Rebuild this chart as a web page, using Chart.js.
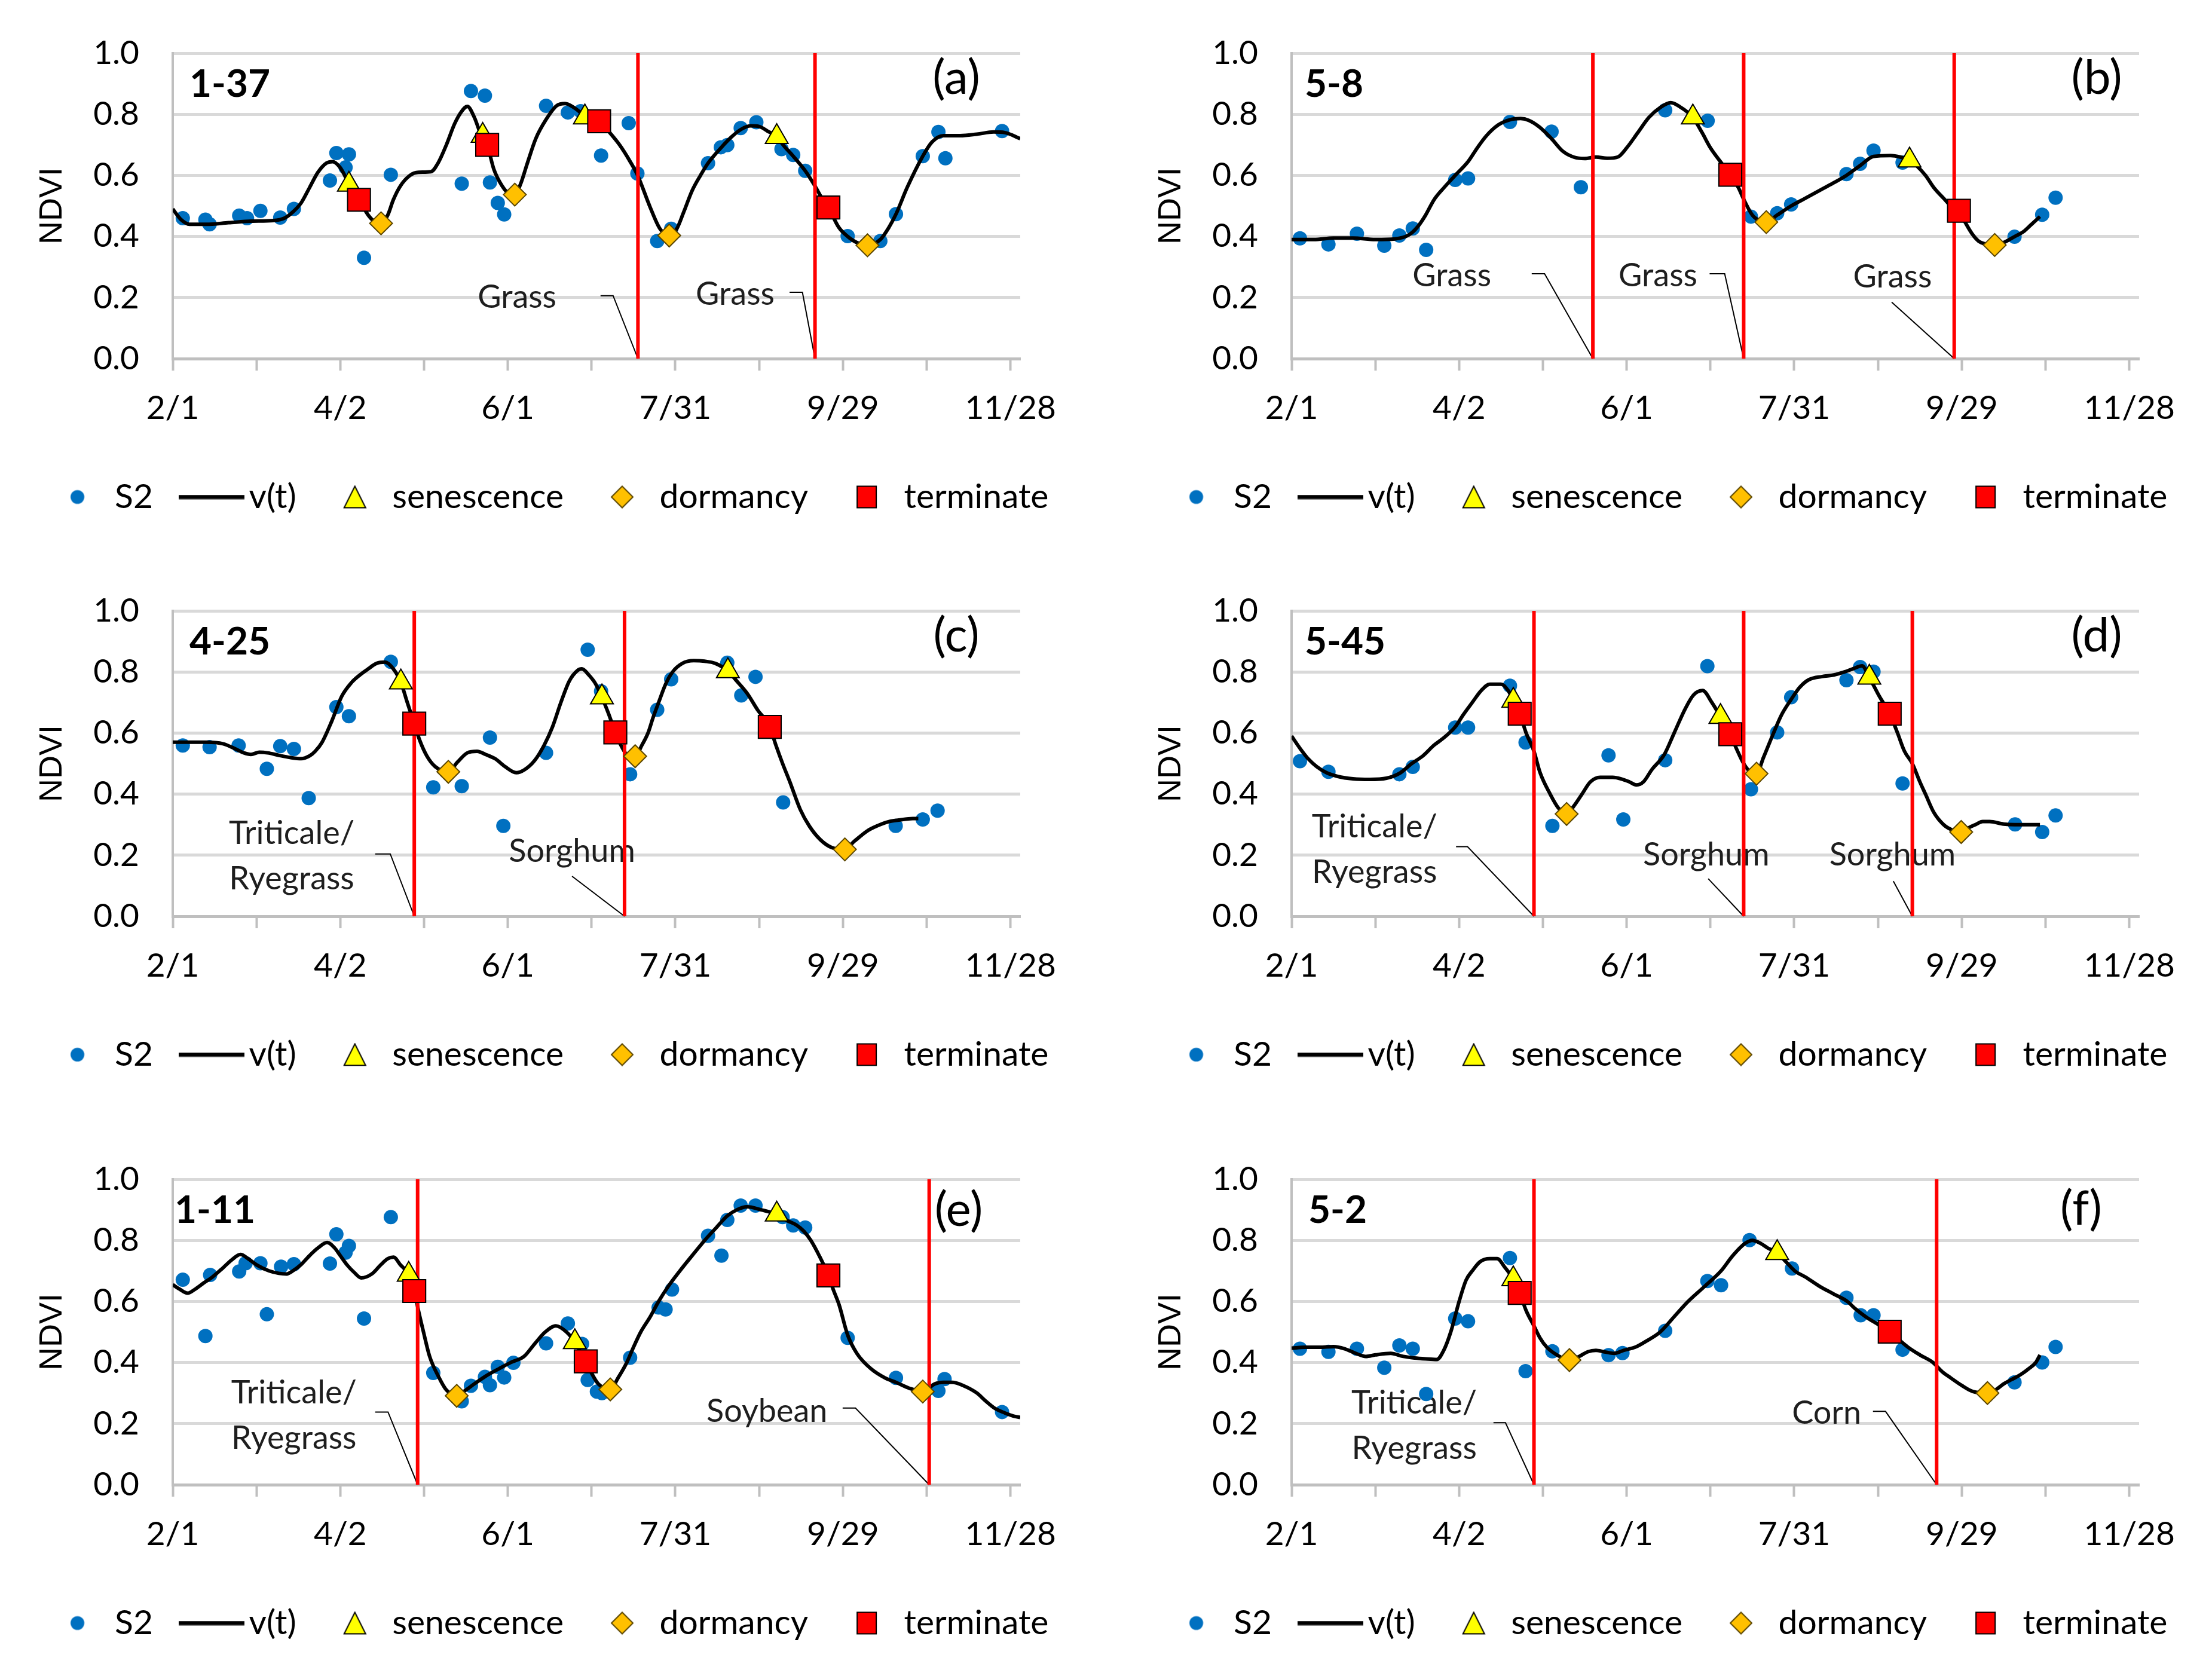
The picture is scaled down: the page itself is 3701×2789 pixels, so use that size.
<!DOCTYPE html>
<html>
<head>
<meta charset="utf-8">
<script src="https://cdn.jsdelivr.net/npm/chart.js@4.4.1/dist/chart.umd.min.js"></script>
<style>
  html, body { margin: 0; padding: 0; background: #fff; width: 3701px; height: 2789px; overflow: hidden; }
  .panel { position: absolute; width: 1850px; height: 905px; }
</style>
</head>
<body>
<div class="panel" style="left:0;top:0"><canvas id="pa"></canvas></div>
<div class="panel" style="left:1872px;top:0"><canvas id="pb"></canvas></div>
<div class="panel" style="left:0;top:933px"><canvas id="pc"></canvas></div>
<div class="panel" style="left:1872px;top:933px"><canvas id="pd"></canvas></div>
<div class="panel" style="left:0;top:1884px"><canvas id="pe"></canvas></div>
<div class="panel" style="left:1872px;top:1884px"><canvas id="pf"></canvas></div>
<script>
// x axis = days since Feb 1
var tickDays = [0, 30, 60, 90, 120, 150, 180, 210, 240, 270, 300];
var tickLabels = ['2/1', '4/2', '6/1', '7/31', '9/29', '11/28'];
var legendNames = ['S2', 'v(t)', 'senescence', 'dormancy', 'terminate'];
var yTitle = 'NDVI';

// (a) 1-37
var s2A = [[3.6,0.46],[11.7,0.455],[13.2,0.44],[23.8,0.468],[26.6,0.46],[31.4,0.484],[38.5,0.462],[43.4,0.49],[56.3,0.583],[58.6,0.673],[61.9,0.626],[63.1,0.669],[68.5,0.33],[78.1,0.602],[103.5,0.573],[106.8,0.876],[111.8,0.861],[113.6,0.577],[116.4,0.51],[118.7,0.472],[133.7,0.828],[141.5,0.806],[146.1,0.81],[153.4,0.665],[163.3,0.771],[166.4,0.606],[173.5,0.385],[178.5,0.425],[191.7,0.64],[196.3,0.692],[198.6,0.699],[203.4,0.755],[209,0.774],[218,0.686],[222.2,0.667],[226.5,0.615],[241.7,0.401],[253.4,0.385],[259,0.473],[268.6,0.663],[274.2,0.742],[276.7,0.656],[297,0.745]];
var vtA = [[0,0.49],[3,0.455],[6,0.44],[12,0.44],[20,0.445],[28,0.45],[36,0.452],[40,0.46],[43,0.48],[46,0.51],[49,0.56],[52,0.61],[55,0.64],[57.3,0.645],[60,0.625],[63,0.575],[66.7,0.52],[70,0.47],[72.5,0.447],[74.6,0.443],[77,0.47],[79,0.52],[81.5,0.565],[85,0.6],[88,0.61],[92.5,0.612],[95,0.64],[98,0.7],[101,0.77],[103.5,0.81],[105.5,0.826],[108,0.79],[110.5,0.73],[112.6,0.7],[115,0.62],[118,0.565],[120.5,0.54],[122.5,0.537],[124.5,0.57],[127,0.64],[130,0.72],[133.5,0.78],[137.5,0.828],[140.5,0.835],[144,0.82],[147.6,0.795],[152.7,0.777],[156,0.745],[160,0.7],[163.5,0.65],[166.5,0.6],[171,0.495],[174.5,0.425],[177.8,0.403],[180.5,0.425],[183,0.48],[186,0.55],[189,0.6],[191.7,0.64],[196.3,0.69],[200,0.725],[203.4,0.75],[207,0.762],[210,0.76],[213,0.745],[216.3,0.726],[219,0.695],[222,0.665],[226.5,0.615],[230,0.565],[232.5,0.525],[234.8,0.495],[238.5,0.43],[241.7,0.4],[245,0.38],[248.8,0.371],[253.4,0.39],[256.5,0.43],[259,0.473],[263,0.56],[268.6,0.663],[272,0.71],[276,0.73],[282,0.73],[288,0.735],[294,0.742],[298,0.74],[303.5,0.72]];
var senA = [[63.1,0.57],[111,0.73],[147.6,0.79],[216.3,0.726]];
var dorA = [[74.6,0.443],[122.5,0.537],[177.8,0.403],[248.8,0.371]];
var terA = [[66.7,0.52],[112.6,0.7],[152.7,0.777],[234.8,0.495]];
var cutA = [166.6, 230];

// (b) 5-8
var s2B = [[3,0.394],[13.2,0.374],[23.4,0.409],[33.2,0.37],[38.6,0.403],[43.4,0.426],[48.2,0.356],[58.6,0.585],[63.2,0.59],[78.2,0.775],[93.1,0.743],[103.6,0.561],[133.8,0.813],[149,0.779],[164.5,0.465],[173.9,0.476],[178.9,0.505],[198.7,0.604],[203.6,0.638],[208.4,0.681],[218.8,0.642],[258.9,0.399],[268.8,0.471],[273.6,0.527]];
var vtB = [[0,0.39],[8,0.39],[15,0.395],[22,0.395],[30,0.39],[37,0.392],[42,0.405],[45,0.43],[48,0.47],[51,0.52],[54.6,0.56],[58.6,0.6],[63.2,0.645],[66.5,0.69],[69.8,0.73],[74,0.765],[78.2,0.782],[82,0.786],[85,0.78],[88.8,0.758],[93.1,0.72],[97,0.68],[101,0.66],[105,0.655],[109,0.66],[113,0.656],[116.8,0.66],[120,0.69],[124,0.74],[128,0.79],[132,0.822],[135.8,0.838],[139,0.825],[143.7,0.79],[147,0.74],[150,0.69],[154,0.64],[157.1,0.602],[160,0.56],[162,0.52],[165,0.47],[168,0.45],[170,0.447],[173.9,0.47],[178.9,0.5],[184,0.525],[189,0.55],[194,0.575],[198.7,0.6],[203.6,0.632],[208.4,0.662],[214.5,0.665],[218,0.66],[221.3,0.649],[224,0.63],[227,0.6],[230,0.56],[233.5,0.525],[237.3,0.49],[239,0.484],[241,0.45],[243.6,0.41],[246,0.385],[248.7,0.375],[251.8,0.372],[255,0.38],[259,0.4],[262,0.415],[265,0.44],[268,0.465]];
var senB = [[143.7,0.79],[221.3,0.649]];
var dorB = [[170,0.447],[251.8,0.372]];
var terB = [[157.1,0.602],[239,0.484]];
var cutB = [107.9, 161.9, 237.3];

// (c) 4-25
var s2C = [[3.6,0.559],[13.2,0.554],[23.6,0.559],[33.7,0.483],[38.5,0.557],[43.4,0.548],[48.7,0.387],[58.6,0.685],[63.1,0.655],[78.1,0.833],[93.3,0.422],[103.5,0.426],[113.6,0.585],[118.4,0.296],[133.7,0.535],[148.6,0.873],[153.4,0.737],[163.8,0.465],[173.5,0.676],[178.5,0.776],[198.6,0.83],[203.6,0.723],[208.7,0.784],[218.6,0.373],[258.9,0.296],[268.6,0.317],[273.9,0.346]];
var vtC = [[0,0.57],[6,0.57],[12,0.57],[18,0.565],[22,0.55],[25.5,0.535],[28,0.53],[31,0.537],[34,0.535],[38,0.527],[42,0.52],[46,0.516],[49,0.525],[51,0.54],[53.5,0.57],[57,0.64],[60.5,0.72],[64,0.765],[67,0.79],[70,0.81],[73,0.828],[76,0.832],[79,0.81],[81.7,0.766],[84,0.7],[86.5,0.631],[88.5,0.575],[91,0.525],[94,0.49],[98.7,0.473],[102,0.505],[105.5,0.535],[109,0.54],[112,0.53],[115.6,0.515],[119,0.49],[123,0.47],[126,0.48],[129.6,0.51],[133,0.56],[136,0.62],[139,0.7],[142,0.77],[145,0.805],[146.5,0.81],[149,0.79],[151.5,0.76],[153.7,0.717],[156,0.665],[158.5,0.602],[160.5,0.56],[162.6,0.53],[165.6,0.524],[168,0.56],[170.2,0.6],[172,0.65],[174,0.7],[176.5,0.76],[179,0.8],[182.5,0.828],[186.6,0.837],[190.5,0.835],[194.3,0.828],[198.8,0.803],[202,0.77],[205.7,0.73],[209.5,0.675],[213.8,0.62],[216,0.56],[218.4,0.5],[221,0.44],[224.7,0.35],[228,0.295],[232,0.25],[236,0.225],[240.7,0.219],[244,0.245],[248.8,0.28],[252,0.295],[256.5,0.31],[260,0.315],[265,0.32],[267,0.32]];
var senC = [[81.7,0.766],[153.7,0.717],[198.8,0.803]];
var dorC = [[98.7,0.473],[165.6,0.524],[240.7,0.219]];
var terC = [[86.5,0.631],[158.5,0.602],[213.8,0.62]];
var cutC = [86.5, 161.8];

// (d) 5-45
var s2D = [[3,0.508],[13.2,0.473],[38.6,0.465],[43.4,0.489],[58.6,0.618],[63.2,0.618],[78.2,0.755],[83.8,0.569],[93.4,0.296],[113.5,0.527],[118.8,0.317],[133.8,0.511],[148.9,0.819],[164.5,0.416],[173.9,0.602],[178.9,0.717],[198.7,0.773],[203.6,0.816],[208.4,0.801],[218.8,0.435],[259.1,0.301],[268.8,0.276],[273.6,0.33]];
var vtD = [[0,0.59],[3,0.55],[6,0.515],[9,0.49],[12.5,0.47],[16.5,0.458],[22,0.45],[28,0.448],[34,0.452],[39,0.47],[43,0.5],[47,0.525],[51,0.56],[54.6,0.585],[58.6,0.62],[61.5,0.66],[64.7,0.7],[68,0.74],[71,0.76],[75,0.76],[77.5,0.74],[79.4,0.706],[81.7,0.663],[84,0.6],[86.8,0.54],[89,0.47],[92.6,0.4],[95.5,0.355],[98.5,0.335],[101,0.36],[104,0.4],[107,0.44],[110.5,0.455],[115,0.455],[118,0.45],[121,0.44],[123.5,0.43],[126,0.44],[129,0.48],[133.5,0.53],[137,0.6],[141,0.68],[144,0.725],[147.2,0.739],[150.5,0.7],[153.6,0.653],[157.1,0.596],[159.5,0.545],[161.9,0.5],[164,0.475],[166.5,0.467],[169,0.52],[172.6,0.6],[175.5,0.66],[178.9,0.71],[182,0.75],[185.3,0.775],[190,0.785],[194.2,0.79],[198,0.8],[201.5,0.812],[204.3,0.82],[206.9,0.782],[210.5,0.72],[214.2,0.663],[217,0.6],[219.5,0.54],[222.3,0.5],[225,0.44],[227,0.4],[230,0.34],[233.5,0.3],[236.5,0.283],[239.8,0.276],[242.5,0.29],[244.9,0.3],[247.5,0.31],[250,0.31],[255,0.302],[259,0.3],[264,0.3],[268,0.3]];
var senD = [[79.4,0.706],[153.6,0.653],[206.9,0.782]];
var dorD = [[98.5,0.335],[166.5,0.467],[239.8,0.276]];
var terD = [[81.7,0.663],[157.1,0.596],[214.2,0.663]];
var cutD = [86.8, 161.9, 222.3];

// (e) 1-11
var s2E = [[3.6,0.671],[11.7,0.487],[13.4,0.687],[23.8,0.698],[26.1,0.725],[31.4,0.725],[33.7,0.558],[38.8,0.714],[43.4,0.722],[56.3,0.724],[58.6,0.82],[61.9,0.76],[63.1,0.782],[68.5,0.544],[78.1,0.876],[93.3,0.366],[103.5,0.273],[106.8,0.324],[111.8,0.353],[113.6,0.326],[116.4,0.386],[118.7,0.351],[122,0.399],[133.7,0.463],[141.5,0.528],[146.6,0.461],[148.6,0.343],[151.9,0.305],[153.7,0.3],[163.8,0.416],[174,0.58],[176.5,0.574],[178.8,0.639],[191.7,0.815],[196.5,0.75],[198.6,0.867],[203.4,0.914],[208.7,0.914],[218.4,0.876],[222.2,0.849],[226.5,0.842],[241.7,0.481],[259,0.35],[274.2,0.307],[276.4,0.346],[297,0.238]];
var vtE = [[0,0.655],[2.5,0.64],[5.3,0.627],[8,0.64],[11,0.66],[14.2,0.68],[18,0.71],[21,0.735],[24.3,0.754],[27,0.74],[30,0.72],[34.5,0.7],[38,0.692],[40.8,0.69],[43,0.7],[45.9,0.72],[49,0.75],[52,0.775],[55.3,0.793],[58,0.775],[60,0.75],[62.4,0.72],[65,0.695],[67.5,0.677],[71.3,0.69],[74.5,0.72],[77,0.74],[79.1,0.745],[81.5,0.72],[84.5,0.688],[86.5,0.634],[88,0.57],[89.8,0.5],[92,0.42],[95.4,0.35],[98,0.31],[101.7,0.291],[105,0.31],[108,0.33],[112,0.355],[116.9,0.38],[121,0.4],[125.8,0.42],[129.5,0.46],[133.4,0.5],[137.2,0.52],[141,0.5],[144,0.467],[146,0.435],[147.9,0.404],[150,0.365],[152.4,0.33],[156.7,0.312],[159.5,0.35],[162.6,0.4],[165,0.45],[167.6,0.5],[171,0.55],[174,0.6],[177.5,0.65],[181.6,0.7],[186,0.75],[190.5,0.8],[194.5,0.84],[198.6,0.88],[202,0.9],[205.7,0.91],[210.7,0.9],[216.3,0.885],[220,0.865],[223.4,0.85],[226,0.83],[228.5,0.8],[231.5,0.75],[234.8,0.685],[236.5,0.64],[238.6,0.59],[241.7,0.49],[245,0.43],[250,0.38],[255,0.35],[259,0.335],[264,0.315],[268.6,0.305],[272.9,0.33],[276,0.335],[279.2,0.335],[283,0.325],[288,0.3],[291,0.275],[294.4,0.25],[298,0.235],[301,0.225],[303.5,0.22]];
var senE = [[84.5,0.688],[144,0.467],[216.3,0.885]];
var dorE = [[101.7,0.291],[156.7,0.312],[268.6,0.305]];
var terE = [[86.5,0.634],[147.9,0.404],[234.8,0.685]];
var cutE = [87.7, 270.9];

// (f) 5-2
var s2F = [[3,0.445],[13.2,0.435],[23.4,0.445],[33.2,0.383],[38.6,0.456],[43.4,0.445],[48.2,0.297],[58.6,0.544],[63.2,0.535],[78.2,0.742],[83.8,0.372],[93.4,0.437],[113.5,0.424],[118.5,0.431],[133.8,0.504],[148.9,0.667],[153.8,0.653],[164,0.801],[179.2,0.708],[198.7,0.612],[203.8,0.555],[208.4,0.555],[218.8,0.442],[258.9,0.335],[268.8,0.4],[273.6,0.451]];
var vtF = [[0,0.447],[5,0.45],[10,0.45],[15,0.452],[19,0.445],[23,0.43],[26.6,0.42],[30,0.425],[35.5,0.43],[40,0.42],[44,0.415],[48,0.412],[52,0.41],[54.5,0.44],[57,0.5],[60,0.6],[62.5,0.67],[64.7,0.7],[67.5,0.73],[71,0.74],[73.6,0.74],[76.5,0.71],[79.4,0.673],[81.7,0.628],[84,0.57],[86.8,0.52],[89,0.48],[91.4,0.45],[95,0.425],[99.5,0.408],[103,0.42],[106,0.435],[109,0.44],[112,0.435],[115.5,0.43],[119,0.44],[123,0.45],[127,0.47],[132,0.5],[137,0.55],[142,0.6],[148,0.65],[153.8,0.7],[158,0.75],[162.4,0.79],[165,0.8],[168,0.79],[170.5,0.775],[173.9,0.759],[177,0.73],[180.2,0.7],[184,0.68],[189,0.65],[194,0.625],[199,0.6],[202,0.575],[205.6,0.55],[210,0.525],[214.2,0.501],[217.5,0.475],[220.8,0.45],[225,0.425],[229.7,0.4],[233,0.37],[236,0.35],[240,0.325],[244,0.305],[249.2,0.3],[252,0.31],[255,0.33],[258,0.345],[261,0.36],[264,0.38],[266.5,0.4],[268,0.425]];
var senF = [[79.4,0.673],[173.9,0.759]];
var dorF = [[99.5,0.408],[249.2,0.3]];
var terF = [[81.7,0.628],[214.2,0.501]];
var cutF = [86.8, 231];

// crop labels with leader lines (data coordinates)
var notesA = [
  { text: ['Grass'], at: [123.3, 0.2], path: [[153.2, 0.206], [157.7, 0.206], [166.6, 0]] },
  { text: ['Grass'], at: [201.4, 0.21], path: [[220.9, 0.217], [225.5, 0.217], [230, 0]] }
];
var notesB = [
  { text: ['Grass'], at: [57.4, 0.27], path: [[86, 0.278], [90.6, 0.278], [107.9, 0]] },
  { text: ['Grass'], at: [131.2, 0.27], path: [[149.7, 0.278], [155.1, 0.278], [161.9, 0]] },
  { text: ['Grass'], at: [215.2, 0.267], path: [[214.9, 0.185], [237.3, 0]] }
];
var notesC = [
  { text: ['Triticale/', 'Ryegrass'], at: [42.6, 0.271], path: [[72.5, 0.204], [77.9, 0.204], [86.5, 0]] },
  { text: ['Sorghum'], at: [143, 0.212], path: [[143, 0.131], [161.8, 0]] }
];
var notesD = [
  { text: ['Triticale/', 'Ryegrass'], at: [29.7, 0.292], path: [[58.9, 0.228], [63, 0.228], [86.8, 0]] },
  { text: ['Sorghum'], at: [148.5, 0.201], path: [[149.2, 0.123], [161.9, 0]] },
  { text: ['Sorghum'], at: [215.2, 0.201], path: [[215.5, 0.115], [222.3, 0]] }
];
var notesE = [
  { text: ['Triticale/', 'Ryegrass'], at: [43.4, 0.3], path: [[72.5, 0.238], [77.1, 0.238], [87.7, 0]] },
  { text: ['Soybean'], at: [212.8, 0.24], path: [[239.9, 0.251], [244.5, 0.251], [270.9, 0]] }
];
var notesF = [
  { text: ['Triticale/', 'Ryegrass'], at: [43.9, 0.267], path: [[72.3, 0.203], [76.6, 0.203], [86.8, 0]] },
  { text: ['Corn'], at: [191.6, 0.233], path: [[208.2, 0.24], [212.7, 0.24], [231, 0]] }
];

var blue = '#0070C0', yellow = '#FFFF00', orange = '#FFC000', red = '#FF0000';

function makeIcon(w, h, paint) {
  var c = document.createElement('canvas');
  c.width = w; c.height = h;
  paint(c.getContext('2d'));
  return c;
}
var legendIcons = [
  makeIcon(26, 26, function (g) { g.fillStyle = blue; g.beginPath(); g.arc(13, 13, 11.5, 0, Math.PI * 2); g.fill(); }),
  makeIcon(110, 8, function (g) { g.fillStyle = '#000'; g.fillRect(0, 0.5, 110, 7); }),
  makeIcon(40, 40, function (g) {
    g.beginPath(); g.moveTo(20, 2); g.lineTo(38, 38); g.lineTo(2, 38); g.closePath();
    g.fillStyle = yellow; g.fill(); g.lineWidth = 2; g.strokeStyle = '#000'; g.stroke();
  }),
  makeIcon(40, 40, function (g) {
    g.beginPath(); g.moveTo(20, 2); g.lineTo(38, 20); g.lineTo(20, 38); g.lineTo(2, 20); g.closePath();
    g.fillStyle = orange; g.fill(); g.lineWidth = 2; g.strokeStyle = '#5a4500'; g.stroke();
  }),
  makeIcon(36, 40, function (g) {
    g.fillStyle = red; g.fillRect(2, 2, 32, 36); g.lineWidth = 2; g.strokeStyle = '#000'; g.strokeRect(2, 2, 32, 36);
  })
];

Chart.defaults.font.family = 'Lato';

function notesPlugin(p) {
  return {
    id: 'notes',
    beforeDatasetsDraw: function (chart) {
      var ctx = chart.ctx, xs = chart.scales.x, ys = chart.scales.y, a = chart.chartArea;
      ctx.save();
      // y axis title
      ctx.save();
      ctx.translate(88, (a.top + a.bottom) / 2);
      ctx.rotate(-Math.PI / 2);
      ctx.fillStyle = '#000';
      ctx.font = '54px "Liberation Sans", Arial, sans-serif';
      ctx.textAlign = 'center';
      ctx.textBaseline = 'middle';
      ctx.fillText(yTitle, 0, 0);
      ctx.restore();

      ctx.fillStyle = '#1e1e1e';
      ctx.font = '54px Lato';
      ctx.textAlign = 'center';
      ctx.textBaseline = 'middle';
      p.notes.forEach(function (n) {
        n.text.forEach(function (t, i) {
          ctx.fillText(t, xs.getPixelForValue(n.at[0]), ys.getPixelForValue(n.at[1]) + i * 76);
        });
        ctx.beginPath();
        n.path.forEach(function (q, i) {
          var px = xs.getPixelForValue(q[0]), py = ys.getPixelForValue(q[1]);
          if (i === 0) ctx.moveTo(px, py); else ctx.lineTo(px, py);
        });
        ctx.strokeStyle = '#000';
        ctx.lineWidth = 2;
        ctx.stroke();
      });
      ctx.fillStyle = '#000';
      ctx.textAlign = 'left';
      ctx.font = 'bold 64px Lato';
      ctx.fillText(p.id, a.left + p.idDx, a.top + 52);
      ctx.textAlign = 'center';
      ctx.font = '80px Lato';
      ctx.fillText(p.tag, a.right - p.tagDx, a.top + p.tagDy);
      ctx.restore();
    }
  };
}

function makePanel(p) {
  var ds = [
    { label: 'S2', data: p.s2, showLine: false, pointStyle: 'circle', pointRadius: 12, pointBackgroundColor: blue, pointBorderWidth: 0, order: 5 },
    { label: 'v(t)', data: p.vt, borderColor: '#000', borderWidth: 6, pointRadius: 0, cubicInterpolationMode: 'monotone', fill: false, order: 4 },
    { label: 'senescence', data: p.sen, showLine: false, pointStyle: 'triangle', pointRadius: 22, pointBackgroundColor: yellow, pointBorderColor: '#000', pointBorderWidth: 2, order: 2 },
    { label: 'dormancy', data: p.dor, showLine: false, pointStyle: 'rectRot', pointRadius: 19, pointBackgroundColor: orange, pointBorderColor: '#5a4500', pointBorderWidth: 2, order: 1 },
    { label: 'terminate', data: p.ter, showLine: false, pointStyle: 'rect', pointRadius: 27, pointBackgroundColor: red, pointBorderColor: '#000', pointBorderWidth: 2, order: 0 }
  ];
  p.cuts.forEach(function (c) {
    ds.push({ label: '', data: [[c, 0], [c, 1]], borderColor: red, borderWidth: 6, pointRadius: 0, order: 3 });
  });

  new Chart(document.getElementById(p.el), {
    type: 'line',
    data: { datasets: ds },
    options: {
      responsive: true,
      maintainAspectRatio: false,
      devicePixelRatio: 1,
      animation: false,
      events: [],
      layout: { padding: { left: 0, right: 0, top: 78, bottom: 35 } },
      scales: {
        x: {
          type: 'linear', min: 0, max: 303.5,
          afterBuildTicks: function (s) { s.ticks = tickDays.map(function (v) { return { value: v }; }); },
          ticks: {
            autoSkip: false, maxRotation: 0, padding: 30, color: '#000', font: { size: 55 },
            callback: function (v) { return v % 60 === 0 ? tickLabels[v / 60] : ''; }
          },
          grid: { drawOnChartArea: false, drawTicks: true, tickLength: 20, tickColor: '#bfbfbf', tickWidth: 4 },
          border: { color: '#bfbfbf', width: 5 },
          afterFit: function (s) { s.height = 139; }
        },
        y: {
          type: 'linear', min: 0, max: 1,
          ticks: { stepSize: 0.2, padding: 56, color: '#000', font: { size: 55 }, callback: function (v) { return v.toFixed(1); } },
          grid: { color: '#d9d9d9', lineWidth: 5, drawTicks: false },
          border: { color: '#bfbfbf', width: 4 },
          afterFit: function (s) { s.width = 289; }
        },
        yr: {
          type: 'linear', position: 'right', display: true,
          grid: { display: false }, border: { display: false }, ticks: { display: false },
          afterFit: function (s) { s.width = 143; }
        }
      },
      plugins: {
        tooltip: { enabled: false },
        legend: {
          position: 'bottom',
          labels: {
            usePointStyle: true, pointStyleWidth: 68, padding: 64, color: '#000', font: { size: 57 },
            generateLabels: function () {
              return legendNames.map(function (name, i) {
                return { text: name, pointStyle: legendIcons[i], fontColor: '#000', lineWidth: 0, hidden: false, datasetIndex: i };
              });
            }
          }
        }
      }
    },
    plugins: [notesPlugin(p)]
  });
}

makePanel({ el: 'pa', id: '1-37', tag: '(a)', idDx: 28, tagDx: 107, tagDy: 42, s2: s2A, vt: vtA, sen: senA, dor: dorA, ter: terA, cuts: cutA, notes: notesA });
makePanel({ el: 'pb', id: '5-8', tag: '(b)', idDx: 22, tagDx: 71, tagDy: 42, s2: s2B, vt: vtB, sen: senB, dor: dorB, ter: terB, cuts: cutB, notes: notesB });
makePanel({ el: 'pc', id: '4-25', tag: '(c)', idDx: 28, tagDx: 107, tagDy: 42, s2: s2C, vt: vtC, sen: senC, dor: dorC, ter: terC, cuts: cutC, notes: notesC });
makePanel({ el: 'pd', id: '5-45', tag: '(d)', idDx: 22, tagDx: 71, tagDy: 42, s2: s2D, vt: vtD, sen: senD, dor: dorD, ter: terD, cuts: cutD, notes: notesD });
makePanel({ el: 'pe', id: '1-11', tag: '(e)', idDx: 3, tagDx: 103, tagDy: 52, s2: s2E, vt: vtE, sen: senE, dor: dorE, ter: terE, cuts: cutE, notes: notesE });
makePanel({ el: 'pf', id: '5-2', tag: '(f)', idDx: 28, tagDx: 97, tagDy: 50, s2: s2F, vt: vtF, sen: senF, dor: dorF, ter: terF, cuts: cutF, notes: notesF });
</script>
</body>
</html>
